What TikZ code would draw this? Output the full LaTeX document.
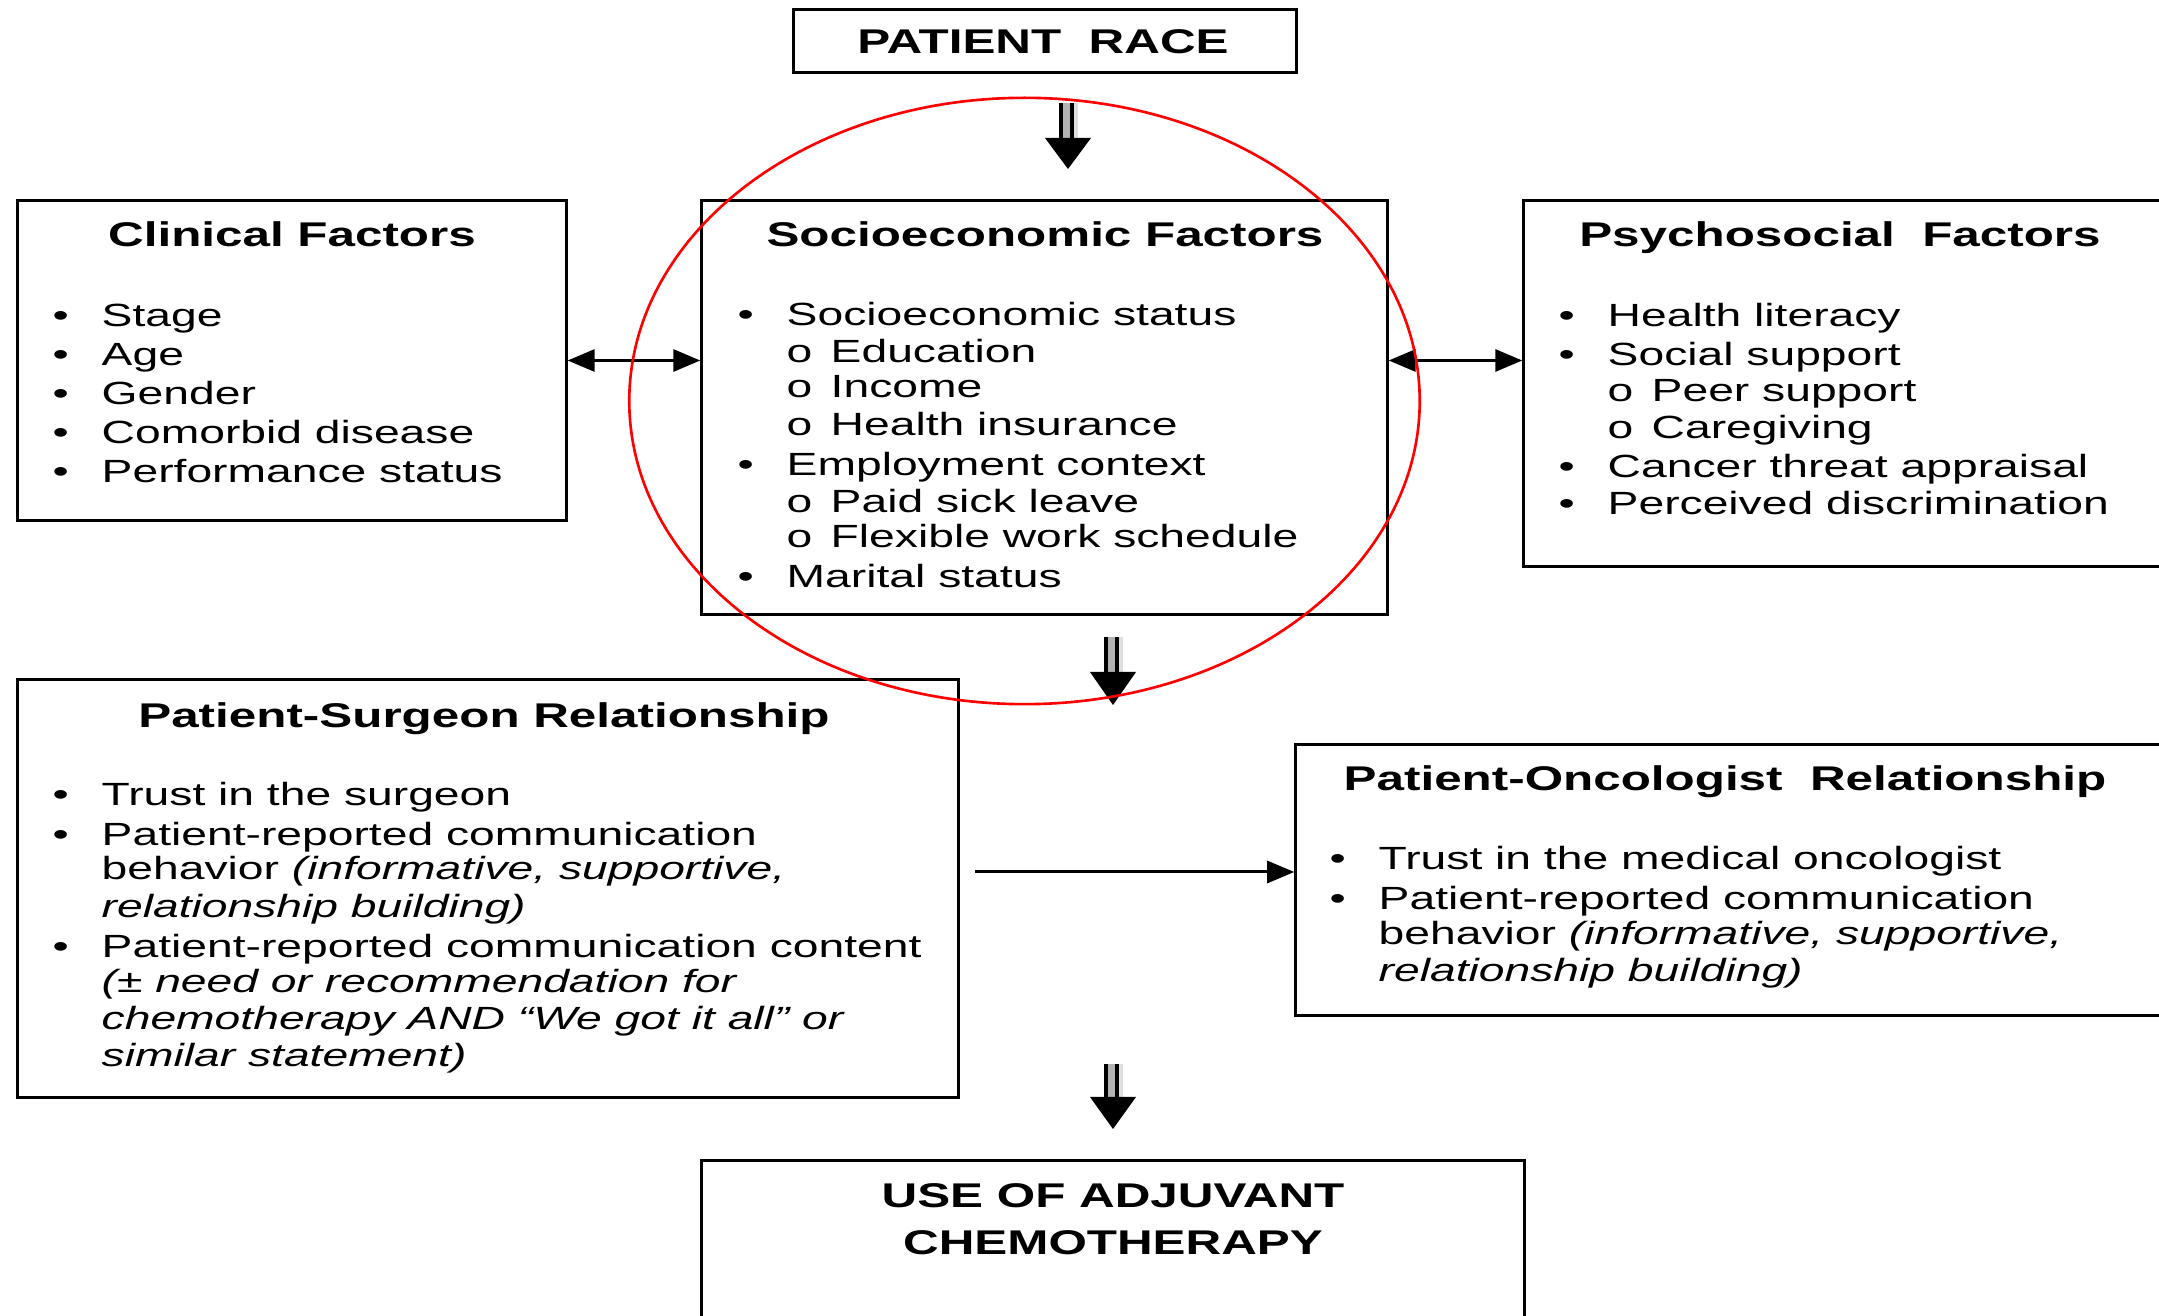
\documentclass[tikz,border=0pt]{standalone}
\usepackage{fontspec}
\setmainfont{Liberation Sans}[FakeStretch=1.44]
\usetikzlibrary{arrows.meta}
\newcommand{\bl}{\makebox[0.49cm][l]{\textbullet}}
\newcommand{\subo}{\makebox[0.44cm][l]{o}}
\newcommand{\blkarrow}[4]{%
  \fill[black] (#1-9.5,#2) rectangle (#1-5.5,#3);
  \fill[gray!60] (#1-5.5,#2) rectangle (#1+1.5,#3);
  \fill[black] (#1+1.5,#2) rectangle (#1+5.5,#3);
  \fill[gray!25] (#1+5.5,#2) rectangle (#1+9.5,#3);
  \fill[black] (#1-23,#3) -- (#1+23,#3) -- (#1,#4) -- cycle;}
\begin{document}
\begin{tikzpicture}[x=0.01cm,y=-0.01cm,
  box/.style={draw, line width=0.85pt, rectangle, inner sep=0pt},
  ttl/.style={anchor=base, inner sep=0pt, font=\fontsize{9.75}{11}\selectfont\bfseries},
  txt/.style={anchor=base west, inner sep=0pt, font=\fontsize{9.13}{11}\selectfont},
  tri/.tip={Triangle[length=0.27cm,width=0.22cm]},
  conn/.style={line width=0.85pt}]
\useasboundingbox (0,0) rectangle (2159,1316);
\clip (0,0) rectangle (2159,1316);
\fill[white] (0,0) rectangle (2159,1316);

% boxes
\node[box, minimum width=5.02cm, minimum height=0.62cm] (race) at (1045,41) {};
\node[box, minimum width=5.48cm, minimum height=3.19cm] (clin) at (292,360.5) {};
\node[box, minimum width=6.85cm, minimum height=4.13cm] (socio) at (1044.5,407.5) {};
\node[box, minimum width=6.76cm, minimum height=3.65cm] (psych) at (1862,383.5) {};
\node[box, minimum width=9.40cm, minimum height=4.17cm] (surg) at (488,888.5) {};
\node[box, minimum width=9.04cm, minimum height=2.70cm] (onc) at (1748,880) {};
\node[box, minimum width=8.22cm, minimum height=1.99cm] (use) at (1113,1260.5) {};

% titles
\node[ttl] (raceT) at (1043,54) {PATIENT\ \ RACE};
\node[ttl] (clinT) at (292,247) {Clinical Factors};
\node[ttl] (socioT) at (1045,247) {Socioeconomic Factors};
\node[ttl] (psychT) at (1840,247) {Psychosocial\ \ Factors};
\node[ttl] (surgT) at (484,728) {Patient-Surgeon Relationship};
\node[ttl] (oncT) at (1725,791) {Patient-Oncologist\ \ Relationship};
\node[ttl] (useT1) at (1113,1208) {USE OF ADJUVANT};
\node[ttl] (useT2) at (1113,1255) {CHEMOTHERAPY};

% clinical
\node[txt] (c1) at (52,327) {\bl Stage};
\node[txt] (c2) at (52,366) {\bl Age};
\node[txt] (c3) at (52,405) {\bl Gender};
\node[txt] (c4) at (52,444) {\bl Comorbid disease};
\node[txt] (c5) at (52,483) {\bl Performance status};

% socioeconomic
\node[txt] (s1) at (737,326) {\bl Socioeconomic status};
\node[txt] (s2) at (786,363) {\subo Education};
\node[txt] (s3) at (786,398) {\subo Income};
\node[txt] (s4) at (786,436) {\subo Health insurance};
\node[txt] (s5) at (737,476) {\bl Employment context};
\node[txt] (s6) at (786,513) {\subo Paid sick leave};
\node[txt] (s7) at (786,548) {\subo Flexible work schedule};
\node[txt] (s8) at (737,588) {\bl Marital status};

% psychosocial
\node[txt] (p1) at (1558,327) {\bl Health literacy};
\node[txt] (p2) at (1558,366) {\bl Social support};
\node[txt] (p3) at (1607,402) {\subo Peer support};
\node[txt] (p4) at (1607,439) {\subo Caregiving};
\node[txt] (p5) at (1558,478) {\bl Cancer threat appraisal};
\node[txt] (p6) at (1558,515) {\bl Perceived discrimination};

% surgeon
\node[txt] (g1) at (52,806) {\bl Trust in the surgeon};
\node[txt] (g2) at (52,846) {\bl Patient-reported communication};
\node[txt] (g3) at (101,880) {behavior \textit{(informative, supportive,}};
\node[txt] (g4) at (101,918) {\textit{relationship building)}};
\node[txt] (g5) at (52,958) {\bl Patient-reported communication content};
\node[txt] (g6) at (101,993) {\textit{(± need or recommendation for}};
\node[txt] (g7) at (101,1030) {\textit{chemotherapy AND “We got it all” or}};
\node[txt] (g8) at (101,1067) {\textit{similar statement)}};

% oncologist
\node[txt] (o1) at (1329,870) {\bl Trust in the medical oncologist};
\node[txt] (o2) at (1329,910) {\bl Patient-reported communication};
\node[txt] (o3) at (1378,945) {behavior \textit{(informative, supportive,}};
\node[txt] (o4) at (1378,982) {\textit{relationship building)}};

% connectors
\draw[conn, tri-tri] (clin.east) -- (clin.east -| socio.west);
\draw[conn, tri-tri] (clin.east -| socio.east) -- (clin.east -| psych.west);
\coordinate (sgstart) at (975,872);
\draw[conn, -tri] (sgstart) -- (sgstart -| onc.west);

% block arrows
\blkarrow{1068}{103}{138}{169}
\blkarrow{1113}{637}{672}{705}
\blkarrow{1113}{1064}{1097}{1129}

% red ellipse
\draw[red, line width=0.75pt] (1024.5,401) ellipse [x radius=3.95cm, y radius=3.03cm];
\end{tikzpicture}
\end{document}
